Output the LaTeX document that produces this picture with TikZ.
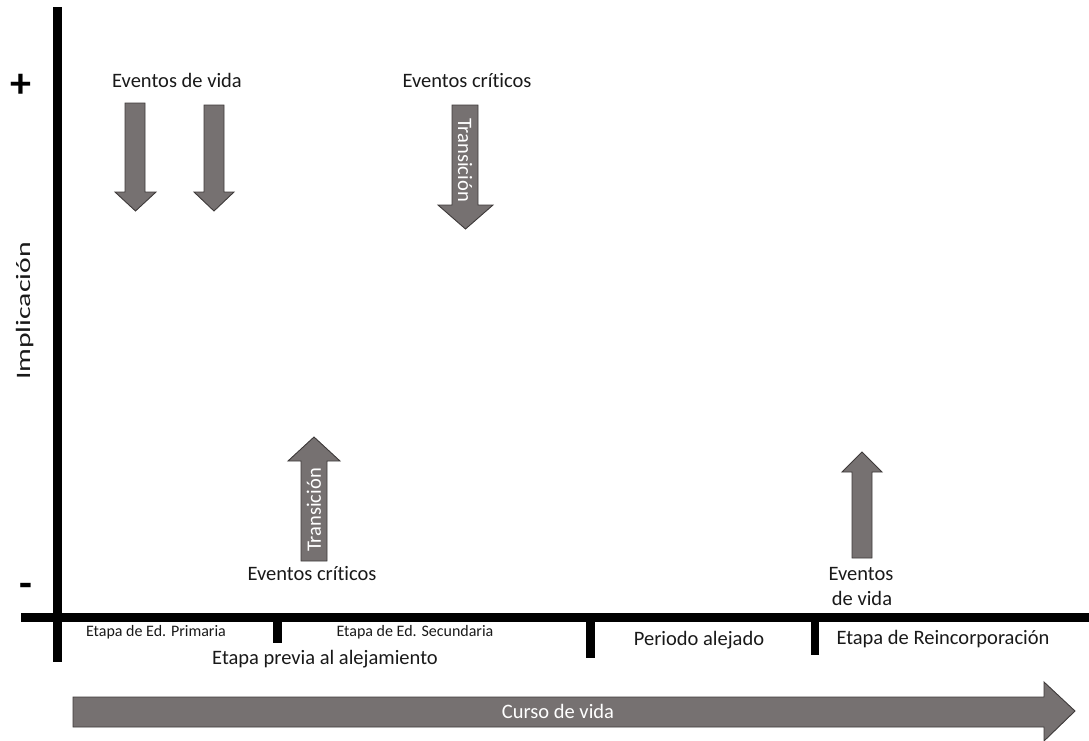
\documentclass[tikz,border=0pt]{standalone}
\usepackage{fontspec}
\setmainfont[Ligatures=NoCommon]{Carlito}
\definecolor{arrowgray}{RGB}{118,113,113}
\definecolor{arrowedge}{RGB}{62,58,58}
\begin{document}
\begin{tikzpicture}[x=1pt,y=-1pt,
  blockarrow/.style={fill=arrowgray, draw=arrowedge, line width=0.9pt, line join=miter},
  axisbar/.style={fill=black, draw=none},
  lbl/.style={font=\fontsize{20.5}{24}\selectfont, inner sep=0pt, text=black!90},
  smalllbl/.style={font=\fontsize{16}{19}\selectfont, inner sep=0pt, text=black!90},
  inarrow/.style={font=\fontsize{20.5}{24}\selectfont, inner sep=0pt, text=white},
  signlbl/.style={font=\fontsize{42}{46}\selectfont\bfseries, inner sep=0pt}]
\useasboundingbox (0,0) rectangle (1089,740);

% axes
\fill[axisbar] (53,7) rectangle (62,662);
\fill[axisbar] (21,613) rectangle (1089,622);
% stage separators
\fill[axisbar] (273,613) rectangle (282,643);
\fill[axisbar] (586,613) rectangle (595,658);
\fill[axisbar] (811,613) rectangle (819,655);

% vertical axis labels
\node[signlbl] (plus) at (21,86) {+};
\node[signlbl] (minus) at (26,590) {-};
\node[lbl, rotate=90] (impl) at (25,311) {\scalebox{1.45}[1]{Implicación}};

% life events from above
\node[lbl] (evtop) at (177,80) {Eventos de vida};
\draw[blockarrow] (125,103) -- (145,103) -- (145,192) -- (156,192) -- (135.5,211)
  -- (115,192) -- (125,192) -- cycle;
\draw[blockarrow] (204,105) -- (224,105) -- (224,192) -- (234,192) -- (214,211)
  -- (194,192) -- (204,192) -- cycle;

% critical events from above
\node[lbl] (crittop) at (467,81) {Eventos críticos};
\draw[blockarrow] (452,105) -- (478,105) -- (478,205) -- (493,205) -- (465.5,229)
  -- (438,205) -- (452,205) -- cycle;
\node[inarrow, rotate=-90] (trtop) at (465,160) {Transición};

% critical events from below
\draw[blockarrow] (301,561) -- (327,561) -- (327,461) -- (340,461) -- (314,437)
  -- (288,461) -- (301,461) -- cycle;
\node[inarrow, rotate=90] (trbot) at (314,510) {Transición};
\node[lbl] (critbot) at (312,574) {Eventos críticos};

% life events from below
\draw[blockarrow] (852,558) -- (872,558) -- (872,472) -- (882,472) -- (862,452)
  -- (842,472) -- (852,472) -- cycle;
\node[lbl] (evbot1) at (861,574) {Eventos};
\node[lbl] (evbot2) at (862,598) {de vida};

% stage names
\node[smalllbl] (prim) at (156,632) {Etapa de Ed. Primaria};
\node[smalllbl] (sec) at (415,632) {Etapa de Ed. Secundaria};
\node[lbl] (previa) at (325,659) {Etapa previa al alejamiento};
\node[lbl] (alej) at (699,640) {Periodo alejado};
\node[lbl] (reinc) at (943,639) {Etapa de Reincorporación};

% life course arrow
\draw[blockarrow] (73,697) -- (1044,697) -- (1044,682) -- (1075,711) -- (1044,741)
  -- (1044,727) -- (73,727) -- cycle;
\node[inarrow] (curso) at (558,711) {Curso de vida};
\end{tikzpicture}
\end{document}
